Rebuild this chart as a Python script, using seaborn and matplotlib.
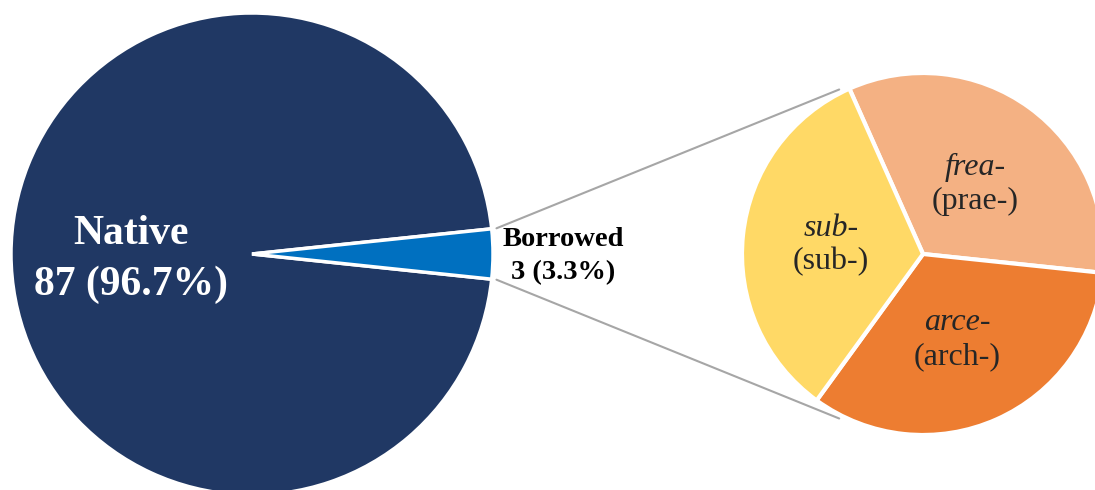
import numpy as np
import matplotlib
matplotlib.use("Agg")
import matplotlib.pyplot as plt
import seaborn as sns

# ---- data ----
main_labels = ["Native", "Borrowed"]
main_counts = [87, 3]
main_colors = ["#203864", "#0070C0"]

sub_latin = ["frea-", "arce-", "sub-"]
sub_gloss = ["(prae-)", "(arch-)", "(sub-)"]
sub_counts = [1, 1, 1]
sub_colors = ["#F4B183", "#ED7D31", "#FFD966"]

sns.set_theme(style="white")
plt.rcParams['font.family'] = ['Liberation Serif', 'DejaVu Serif']

W, H = 1095, 490
fig = plt.figure(figsize=(W / 100, H / 100), dpi=100)
ax = fig.add_axes([0, 0, 1, 1])

# left pie
c1 = (252, H - 254)
r1 = 241
w1, _ = ax.pie(main_counts, colors=main_colors, startangle=6, counterclock=True,
               center=c1, radius=r1,
               wedgeprops=dict(edgecolor="white", linewidth=2.5))

# right pie
c2 = (923, H - 254)
r2 = 181
w2, _ = ax.pie(sub_counts, colors=sub_colors, startangle=114, counterclock=False,
               center=c2, radius=r2,
               wedgeprops=dict(edgecolor="white", linewidth=3))

# connecting lines from the Borrowed wedge to the sub pie
bw = w1[1]
for ang_src, ang_dst in [(bw.theta2, 117), (bw.theta1, -117)]:
    a = np.deg2rad(ang_src)
    b = np.deg2rad(ang_dst)
    x0 = c1[0] + r1 * 1.02 * np.cos(a)
    y0 = c1[1] + r1 * 1.02 * np.sin(a)
    x1 = c2[0] + r2 * 1.02 * np.cos(b)
    y1 = c2[1] + r2 * 1.02 * np.sin(b)
    ax.plot([x0, x1], [y0, y1], color="#A6A6A6", linewidth=1.5, zorder=0)

# labels for left pie
tot = sum(main_counts)
ax.text(131, H - 234, main_labels[0], color="white", fontsize=30, fontweight="bold",
        ha="center", va="center")
ax.text(131, H - 285, f"{main_counts[0]} ({main_counts[0] / tot * 100:.1f}%)", color="white",
        fontsize=30, fontweight="bold", ha="center", va="center")
ax.text(563, H - 240, main_labels[1], color="black", fontsize=20.5, fontweight="bold",
        ha="center", va="center")
ax.text(563, H - 273, f"{main_counts[1]} ({main_counts[1] / tot * 100:.1f}%)", color="black",
        fontsize=20.5, fontweight="bold", ha="center", va="center")

# labels for right pie
pos = [(975, 167), (957, 323), (831, 228)]
for (x, y), lat, gl in zip(pos, sub_latin, sub_gloss):
    ax.text(x, H - y, lat, color="#262626", fontsize=23, fontstyle="italic",
            ha="center", va="center")
    ax.text(x, H - y - 34, gl, color="#262626", fontsize=23, ha="center", va="center")

ax.set_xlim(0, W)
ax.set_ylim(0, H)
ax.set_aspect("equal")
ax.axis("off")

fig.savefig("out.png", dpi=100, facecolor="white")
